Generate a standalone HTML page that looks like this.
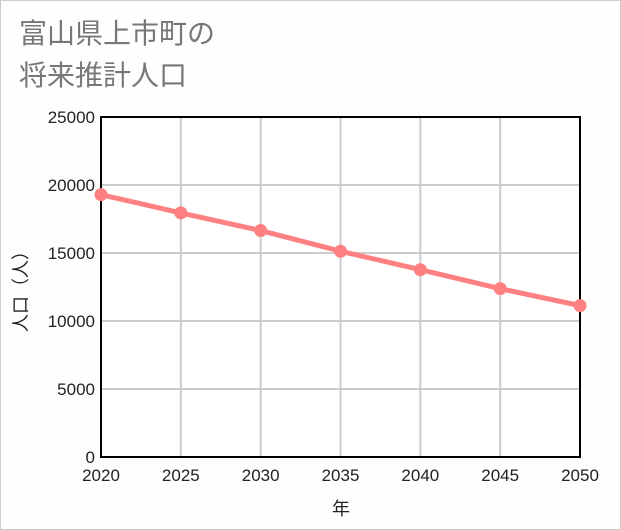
<!DOCTYPE html>
<html><head><meta charset="utf-8"><style>
body{margin:0;background:#fff;}
#wrap{width:619px;height:528px;border:1px solid #ccc;background:#fdfefd;position:relative;font-family:"Liberation Sans","Noto Sans CJK JP",sans-serif;}
#title{position:absolute;left:18px;top:12px;font-size:28px;line-height:42px;color:#777;}
</style></head><body>
<div id="wrap">
<div id="title">富山県上市町の<br>将来推計人口</div>
<svg id="chart" width="619" height="528" style="position:absolute;left:0;top:0"></svg>
</div>
<script>
const years=[2020,2025,2030,2035,2040,2045,2050];
const population=[19290,17950,16650,15130,13770,12380,11130];
const yTicks=[0,5000,10000,15000,20000,25000];
const NS="http://www.w3.org/2000/svg";
const svg=document.getElementById('chart');
const L=100,R=579,T=116,B=456;
const x=v=>L+(v-2020)/30*(R-L);
const y=v=>B-v/25000*(B-T);
function mk(t,a,p){const e=document.createElementNS(NS,t);for(const k in a)e.setAttribute(k,a[k]);(p||svg).appendChild(e);return e;}
const bg=mk('rect',{x:L,y:T,width:R-L,height:B-T,fill:'#fff'});


years.forEach(yr=>{const g=mk('line',{x1:x(yr),x2:x(yr),y1:T,y2:B,stroke:'#ccc','stroke-width':2});


const t=mk('text',{x:x(yr),y:480,'text-anchor':'middle','font-size':17,fill:'#222'});t.textContent=yr;

});
yTicks.forEach(v=>{const g=mk('line',{x1:L,x2:R,y1:y(v),y2:y(v),stroke:'#ccc','stroke-width':2});


const t=mk('text',{x:94,y:y(v)+6,'text-anchor':'end','font-size':17,fill:'#222'});t.textContent=v;

});
const fr=mk('rect',{x:L,y:T,width:R-L,height:B-T,fill:'none',stroke:'#000','stroke-width':2});


const line=mk('polyline',{points:years.map((yr,i)=>x(yr)+','+y(population[i])).join(' '),fill:'none',stroke:'#ff8080','stroke-width':5});


years.forEach((yr,i)=>{const c=mk('circle',{cx:x(yr),cy:y(population[i]),r:6.5,fill:'#ff8080'});

});
const xt=mk('text',{x:340,y:514,'text-anchor':'middle','font-size':18,fill:'#222'});xt.textContent='年';


const yt=mk('text',{x:0,y:0,'text-anchor':'middle','font-size':18,fill:'#222',transform:'translate(26,286) rotate(-90)'});yt.textContent='人口（人）';


</script>
</body></html>
